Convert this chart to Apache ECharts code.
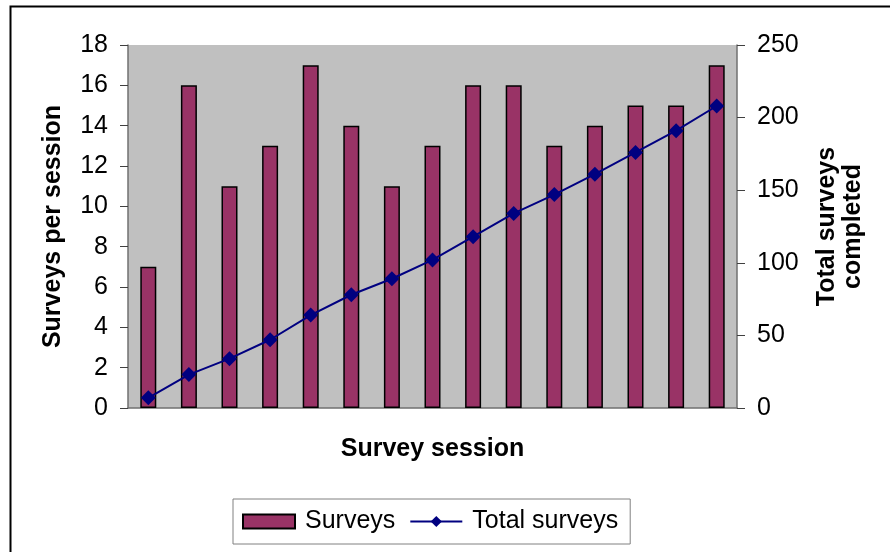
<!DOCTYPE html>
<html><head><meta charset="utf-8">
<script src="https://cdn.jsdelivr.net/npm/echarts@6/dist/echarts.min.js"></script>
<style>html,body{margin:0;padding:0;background:#fff}#c{width:890px;height:552px}</style>
</head><body><div id="c"></div>
<script>
var sessions = ['1','2','3','4','5','6','7','8','9','10','11','12','13','14','15'];
var surveys = [7,16,11,13,17,14,11,13,16,16,13,14,15,15,17];
var totalSurveys = [7,23,34,47,64,78,89,102,118,134,147,161,176,191,208];

var chart = echarts.init(document.getElementById('c'), null, {renderer:'canvas'});
var font = 'Liberation Sans, Arial, sans-serif';
chart.setOption({
  animation:false,
  textStyle:{fontFamily:font},
  graphic:[{type:'rect',left:8,top:4,shape:{width:1000,height:1000},style:{fill:'none',stroke:'#000',lineWidth:2},z:-10}],
  grid:{left:128,right:153,top:45,bottom:144,show:true,backgroundColor:'#c0c0c0',borderWidth:0},
  legend:{
    left:233, top:499,
    padding:[10,12,10,9],
    itemGap:14, itemWidth:52, itemHeight:14,
    borderColor:'#808080', borderWidth:1,
    textStyle:{fontSize:25,color:'#000',fontFamily:font,padding:[0,0,0,5]},
    data:[{name:'Surveys',icon:'rect'},{name:'Total surveys'}]
  },
  xAxis:{
    type:'category', data:sessions,
    name:'Survey session', nameLocation:'middle', nameGap:29,
    nameTextStyle:{fontSize:25,fontWeight:'bold',color:'#000',fontFamily:font},
    axisLine:{lineStyle:{color:'#707070',width:1.5}},
    axisTick:{show:false}, axisLabel:{show:false}
  },
  yAxis:[{
    type:'value', min:0, max:18, interval:2,
    name:'Surveys per session', nameLocation:'middle', nameGap:62, nameRotate:90,
    nameTextStyle:{fontSize:25,fontWeight:'bold',color:'#000',fontFamily:font},
    axisLine:{show:true,lineStyle:{color:'#707070',width:1.5}},
    axisTick:{show:true,length:8,lineStyle:{color:'#404040'}},
    axisLabel:{fontSize:25,color:'#000',margin:20,fontFamily:font},
    splitLine:{show:false}
  },{
    type:'value', min:0, max:250, interval:50, position:'right',
    name:'Total surveys\ncompleted', nameLocation:'middle', nameGap:77, nameRotate:90,
    nameTextStyle:{fontSize:25,fontWeight:'bold',color:'#000',fontFamily:font,lineHeight:26},
    axisLine:{show:true,lineStyle:{color:'#707070',width:1.5}},
    axisTick:{show:true,length:8,lineStyle:{color:'#404040'}},
    axisLabel:{fontSize:25,color:'#000',margin:20,fontFamily:font},
    splitLine:{show:false}
  }],
  series:[{
    name:'Surveys', type:'bar', data:surveys, barWidth:16,
    itemStyle:{color:'#993366',borderColor:'#000',borderWidth:1.5}
  },{
    name:'Total surveys', type:'line', yAxisIndex:1, data:totalSurveys,
    symbol:'diamond', symbolSize:15, showAllSymbol:true,
    lineStyle:{color:'#000080',width:2},
    itemStyle:{color:'#000080'}
  }]
});
</script></body></html>
